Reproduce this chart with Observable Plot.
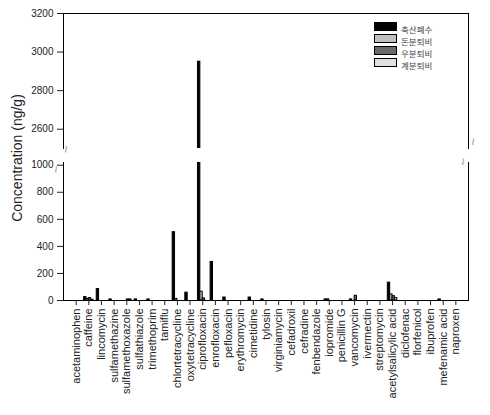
<!DOCTYPE html>
<html><head><meta charset="utf-8">
<script src="https://cdn.jsdelivr.net/npm/d3@7"></script>
<script src="https://cdn.jsdelivr.net/npm/@observablehq/plot@0.6"></script>
<style>
body{margin:0;background:#fff;}
#wrap{position:relative;width:490px;height:415px;font-family:"Liberation Sans",Arial,sans-serif;overflow:hidden;}
svg{display:block;}
#ylabel{position:absolute;left:-83px;top:150px;width:200px;line-height:16px;text-align:center;font-size:14px;color:#222;transform:rotate(-90deg);transform-origin:50% 50%;}
#legend{position:absolute;left:374px;top:22px;font-family:"Noto Sans CJK KR",sans-serif;font-size:8.5px;color:#444;}
.row{position:relative;height:12px;}
.sw{position:absolute;left:0;top:0;width:21px;height:7px;border:1px solid #000;}
.lb{position:absolute;left:27px;top:2px;white-space:nowrap;line-height:10px;}
</style></head><body>
<div id="wrap"><div id="upper"></div><div id="lower"></div>
<div id="ylabel">Concentration (ng/g)</div>
<div id="legend"></div></div>
<script>
const categories = ["acetaminophen","caffeine","lincomycin","sulfamethazine","sulfamethoxazole","sulfathiazole","trimethoprim","tamiflu","chlortetracycline","oxytetracycline","ciprofloxacin","enrofloxacin","pefloxacin","erythromycin","cimetidine","tylosin","virginiamycin","cefadroxil","cefradine","fenbendazole","iopromide","penicillin G","vancomycin","ivermectin","streptomycin","acetylsalicylic acid","diclofenac","florfenicol","ibuprofen","mefenamic acid","naproxen"];
const seriesNames = ["축산폐수","돈분퇴비","우분퇴비","계분퇴비"];
const seriesColors = ["#000000","#c0c0c0","#6a6a6a","#e0e0e0"];
const series1 = [0,25,85,8,0,8,8,0,505,58,2950,285,22,0,22,8,0,0,0,0,8,0,8,0,0,132,0,0,0,8,0];
const series2 = [0,12,0,0,0,0,0,0,12,0,65,0,0,0,0,0,0,0,0,0,8,0,0,0,0,45,0,0,0,0,0];
const series3 = [0,18,0,0,8,0,0,0,0,0,15,0,0,0,0,0,0,0,0,0,0,0,35,0,0,32,0,0,0,0,0];
const series4 = [0,5,0,0,8,0,0,0,0,0,0,0,0,0,0,0,0,0,0,0,0,0,0,0,0,18,0,0,0,0,0];
const upperTicks = [2600,2800,3000,3200];
const lowerTicks = [0,200,400,600,800,1000];

const values = [series1,series2,series3,series4];
const rows = categories.flatMap((c,i)=>seriesNames.map((s,k)=>({category:c, series:s, k, value:values[k][i]}))).filter(d=>d.value>0);

const W = 490, ML = 63, MR = 22;
const pIn = 0.25, pOut = 0.625;
const step = (W-ML-MR)/(categories.length - pIn + 2*pOut);
const q = step*(1-pIn)/4;
const xScale = {domain: categories, paddingInner: pIn, paddingOuter: pOut, align: 0.5, round: false};
const color = {domain: seriesNames, range: seriesColors};
const fmt = d3.format("d");

function barMarks(){
  return [0,1,2,3].map(k => Plot.barY(rows.filter(d=>d.k===k), {
    x:"category", y:"value", fill:"series", stroke:"#000", strokeWidth:1,
    insetLeft:k*q, insetRight:(3-k)*q, clip:true
  }));
}
function brk(anchorV){
  return ["left","right"].map(h => Plot.text(["~"], {
    frameAnchor: anchorV+"-"+h, text: d=>d, rotate:90, fill:"#999", fontSize:13,
    dx: h==="left"? -2 : 0, dy: anchorV==="bottom" ? -3 : 3
  }));
}

const upper = Plot.plot({
  width: W, height: 148, marginTop: 13, marginBottom: 0, marginLeft: ML, marginRight: MR,
  style: {fontFamily:'"Liberation Sans",Arial,sans-serif', fontSize:"10px", color:"#222", background:"#fff", overflow:"visible"},
  x: {...xScale, axis:null},
  y: {domain:[2500,3200]},
  color,
  marks: [
    ...barMarks(),
    Plot.frame({anchor:"top", stroke:"#000", strokeWidth:1}),
    Plot.frame({anchor:"left", stroke:"#000", strokeWidth:1}),
    Plot.frame({anchor:"right", stroke:"#000", strokeWidth:1}),
    Plot.axisY({ticks: upperTicks, tickFormat: fmt, tickSize:6, tickPadding:4, fontSize:10, label:null}),
    ...brk("bottom")
  ]
});
document.getElementById("upper").appendChild(upper);

const lower = Plot.plot({
  width: W, height: 267, marginTop: 14, marginBottom: 115, marginLeft: ML, marginRight: MR,
  style: {fontFamily:'"Liberation Sans",Arial,sans-serif', fontSize:"10px", color:"#222", background:"#fff", overflow:"visible"},
  x: xScale,
  y: {domain:[0,1020]},
  color,
  marks: [
    ...barMarks(),
    Plot.frame({anchor:"bottom", stroke:"#000", strokeWidth:1}),
    Plot.frame({anchor:"left", stroke:"#000", strokeWidth:1}),
    Plot.frame({anchor:"right", stroke:"#000", strokeWidth:1}),
    Plot.axisY({ticks: lowerTicks, tickFormat: fmt, tickSize:6, tickPadding:4, fontSize:10, label:null}),
    Plot.axisX({tickRotate:-90, tickSize:5, tickPadding:3, fontSize:11, label:null}),
    ...brk("top")
  ]
});
document.getElementById("lower").appendChild(lower);

const leg = document.getElementById("legend");
seriesNames.forEach((s,k)=>{
  const r = document.createElement("div"); r.className="row";
  const sw = document.createElement("div"); sw.className="sw"; sw.style.background = seriesColors[k];
  const lb = document.createElement("div"); lb.className="lb"; lb.textContent = s;
  r.appendChild(sw); r.appendChild(lb); leg.appendChild(r);
});
</script></body></html>
